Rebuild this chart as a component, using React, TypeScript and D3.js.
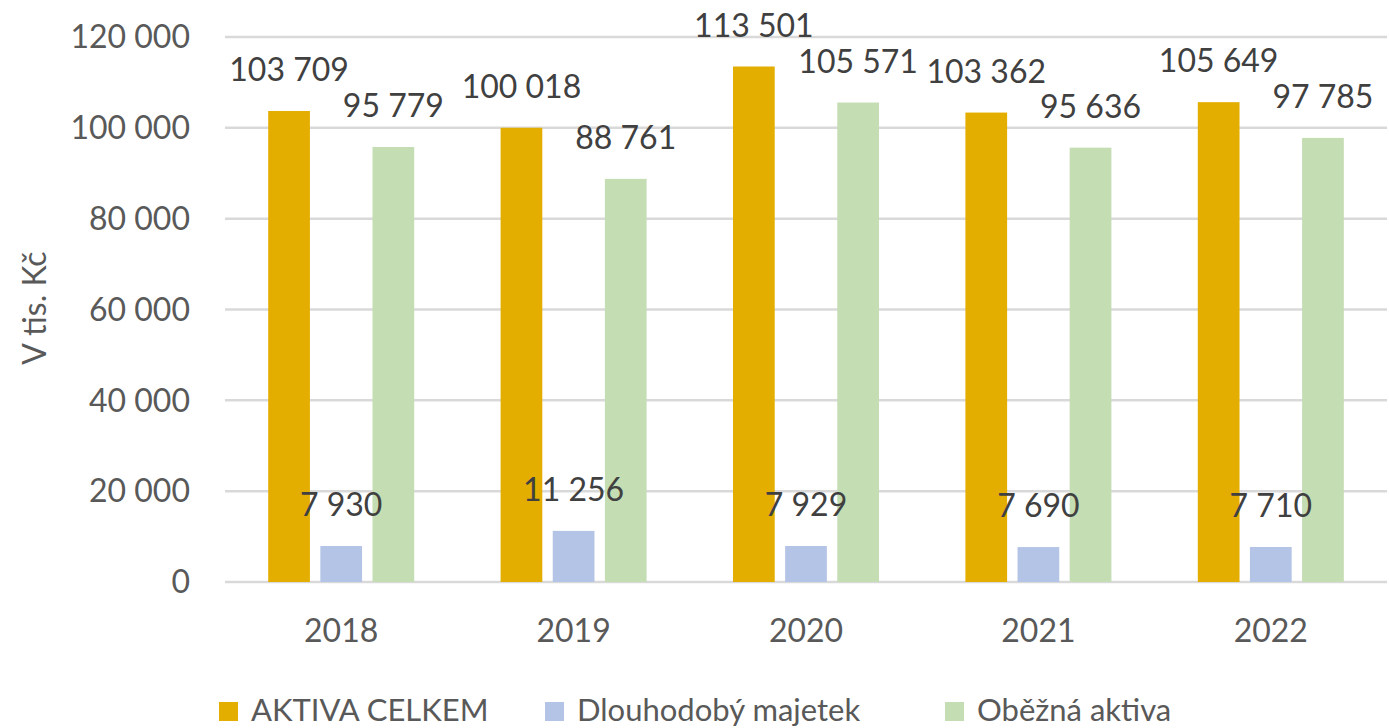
import React, { useRef, useEffect } from 'react';
import * as d3 from 'd3';

// values in tis. Kč
const years = ['2018', '2019', '2020', '2021', '2022'];
const seriesNames = ['AKTIVA CELKEM', 'Dlouhodobý majetek', 'Oběžná aktiva'];
const aktivaCelkem = [103709, 100018, 113501, 103362, 105649];
const dlouhodobyMajetek = [7930, 11256, 7929, 7690, 7710];
const obeznaAktiva = [95779, 88761, 105571, 95636, 97785];
const yTicks = [0, 20000, 40000, 60000, 80000, 100000, 120000];
const colors = ['#E3AE00', '#B4C4E6', '#C4DDB3'];

const W = 1389;
const H = 728;
const FONT = 'Lato, "Open Sans", sans-serif';
const TEXT = '#595959';

const fmt = (v: number) => d3.format(',')(v).replace(/,/g, ' ');

const App = () => {
    const svgRef = useRef<SVGSVGElement>(null);

    useEffect(() => {
        const svg = d3.select(svgRef.current);
        svg.selectAll('*').remove();

        const margin = { top: 37, right: 2, bottom: 146, left: 225 };
        const width = W - margin.left - margin.right;
        const height = H - margin.top - margin.bottom;

        const g = svg.append('g').attr('transform', `translate(${margin.left},${margin.top})`);

        const y = d3.scaleLinear().domain([0, 120000]).range([height, 0]);
        const x = d3.scaleBand().domain(years).range([0, width]).paddingInner(0).paddingOuter(0);
        const groupW = 146;
        const x1 = d3.scaleBand().domain(seriesNames).range([(x.bandwidth() - groupW) / 2, (x.bandwidth() + groupW) / 2]).paddingInner(0.2);

        // gridlines
        g.selectAll('.grid')
            .data(yTicks)
            .enter()
            .append('line')
            .attr('x1', 0)
            .attr('x2', width)
            .attr('y1', d => y(d))
            .attr('y2', d => y(d))
            .attr('stroke', '#d9d9d9')
            .attr('stroke-width', 2.5);

        // y tick labels
        g.selectAll('.ytick')
            .data(yTicks)
            .enter()
            .append('text')
            .attr('x', -35)
            .attr('y', d => y(d))
            .attr('dy', '0.35em')
            .attr('text-anchor', 'end')
            .attr('font-family', FONT)
            .attr('font-size', 32)
            .attr('fill', TEXT)
            .text(d => fmt(d));

        // axis title
        svg.append('text')
            .attr('transform', 'translate(46,308) rotate(-90)')
            .attr('text-anchor', 'middle')
            .attr('font-family', FONT)
            .attr('font-size', 32)
            .attr('fill', TEXT)
            .text('V tis. Kč');

        const table = years.map((yr, i) => ({
            year: yr,
            values: [aktivaCelkem[i], dlouhodobyMajetek[i], obeznaAktiva[i]].map((v, j) => ({ name: seriesNames[j], value: v, idx: j }))
        }));

        const groups = g.selectAll('.year')
            .data(table)
            .enter()
            .append('g')
            .attr('transform', d => `translate(${x(d.year)},0)`);

        groups.selectAll('rect')
            .data(d => d.values)
            .enter()
            .append('rect')
            .attr('x', d => x1(d.name)!)
            .attr('width', x1.bandwidth())
            .attr('y', d => y(d.value))
            .attr('height', d => height - y(d.value))
            .attr('fill', d => colors[d.idx]);

        groups.selectAll('.label')
            .data(d => d.values)
            .enter()
            .append('text')
            .attr('x', d => x1(d.name)! + x1.bandwidth() / 2)
            .attr('y', d => y(d.value) - 30)
            .attr('text-anchor', 'middle')
            .attr('font-family', FONT)
            .attr('font-size', 32)
            .attr('fill', '#404040')
            .text(d => fmt(d.value));

        // category labels
        g.selectAll('.xtick')
            .data(years)
            .enter()
            .append('text')
            .attr('x', d => x(d)! + x.bandwidth() / 2)
            .attr('y', height + 60)
            .attr('text-anchor', 'middle')
            .attr('font-family', FONT)
            .attr('font-size', 32)
            .attr('fill', TEXT)
            .text(d => d);

        // legend
        const legendX = [219, 545, 945];
        const legend = svg.selectAll('.legend')
            .data(seriesNames)
            .enter()
            .append('g')
            .attr('transform', (d, i) => `translate(${legendX[i]},702)`);
        legend.append('rect')
            .attr('width', 19)
            .attr('height', 19)
            .attr('fill', (d, i) => colors[i]);
        legend.append('text')
            .attr('x', 32)
            .attr('y', 19)
            .attr('font-family', FONT)
            .attr('font-size', 31)
            .attr('fill', TEXT)
            .text(d => d);
    }, []);

    return (
        <svg ref={svgRef} width={W} height={H} style={{ position: 'absolute', left: 0, top: 0, background: '#fff' }}></svg>
    );
};

export default App;
